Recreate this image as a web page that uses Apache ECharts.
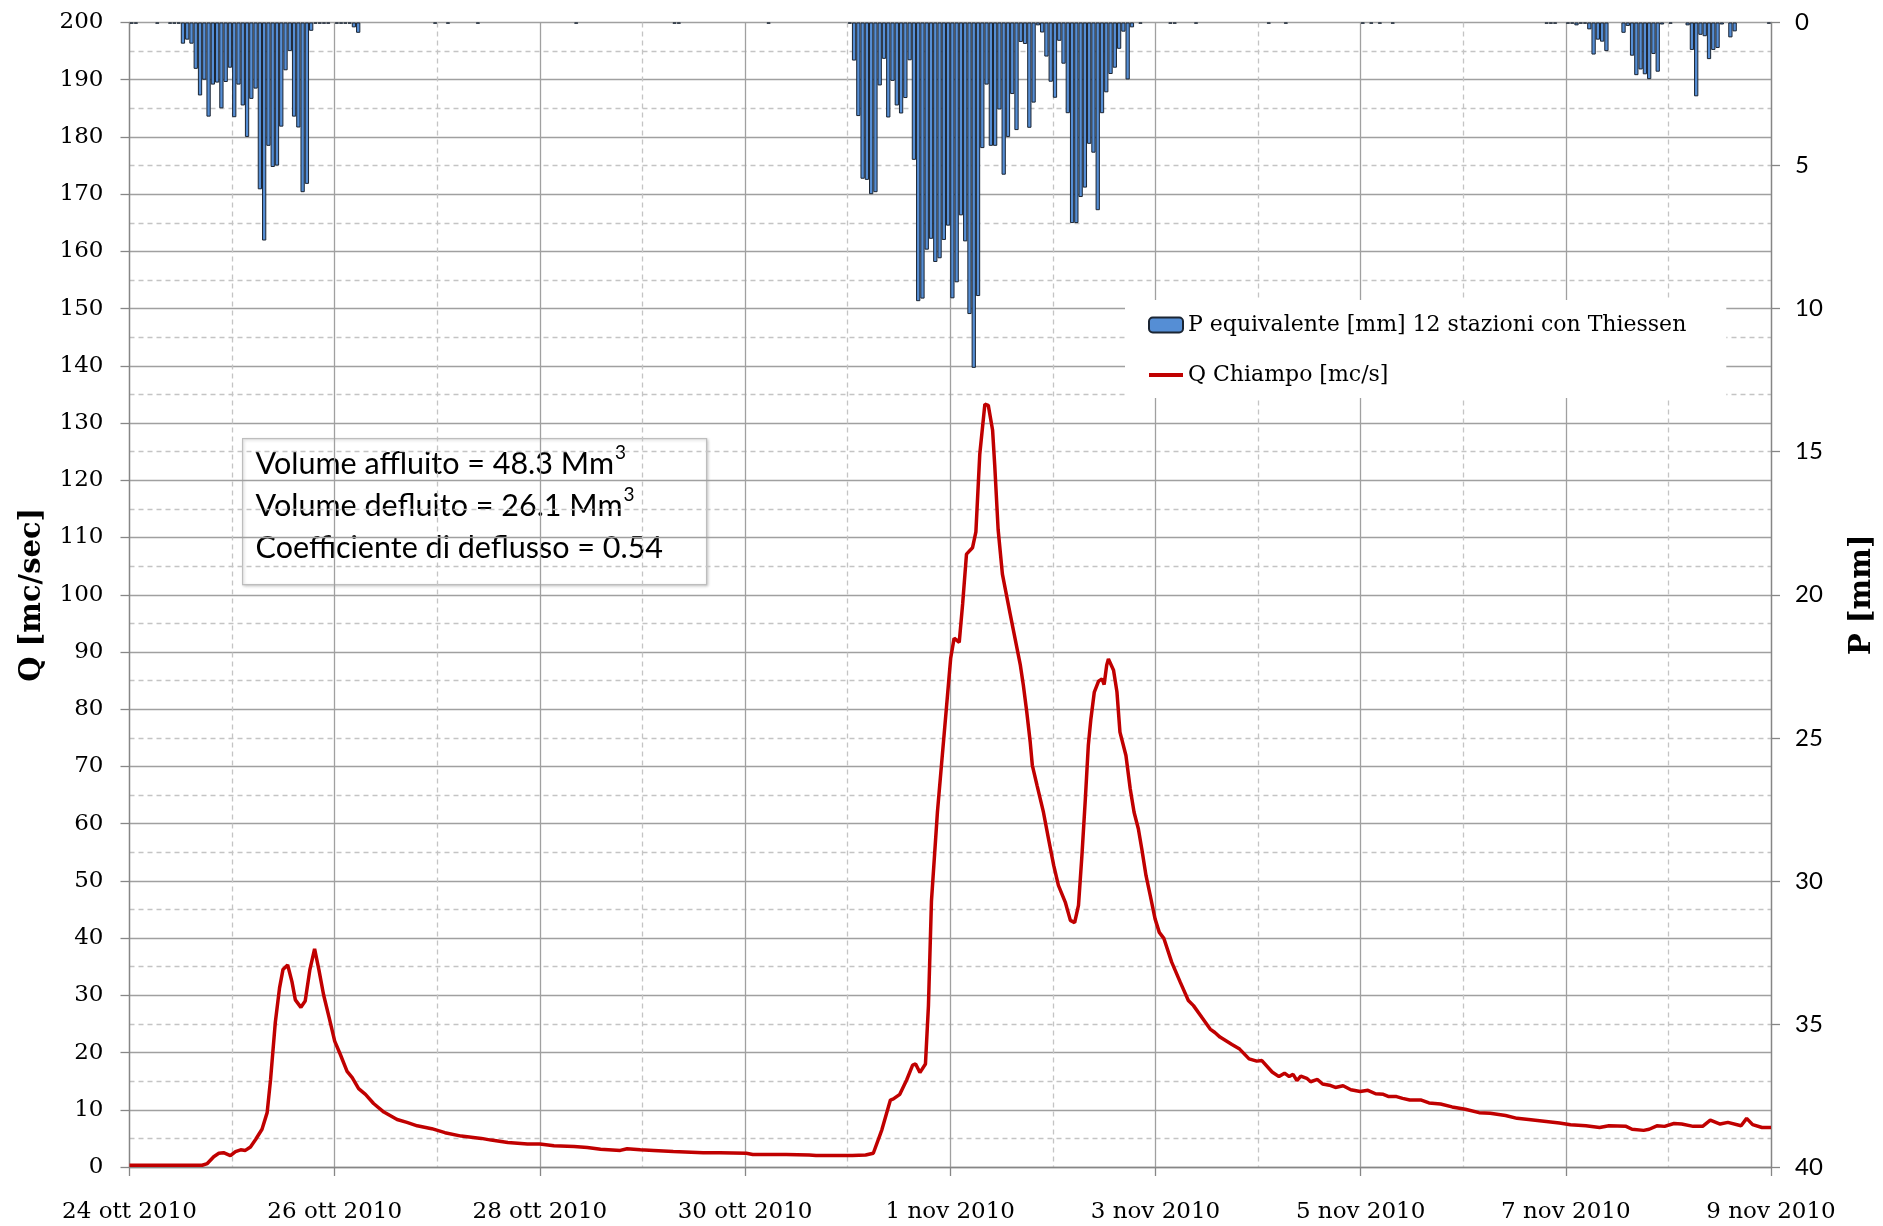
<!DOCTYPE html>
<html>
<head>
<meta charset="utf-8">
<script src="https://cdn.jsdelivr.net/npm/echarts@6/dist/echarts.min.js"></script>
<style>
html,body{margin:0;padding:0;background:#ffffff;}
#chart{width:1883px;height:1226px;}
</style>
</head>
<body>
<div id="chart"></div>
<script>
// ---------------- DATA ----------------
const xTickLabels = ['24 ott 2010','26 ott 2010','28 ott 2010','30 ott 2010','1 nov 2010','3 nov 2010','5 nov 2010','7 nov 2010','9 nov 2010'];
const totalHours = 384;

// Hourly precipitation (mm), given as runs: start hour + consecutive hourly values
const pEvent1Start = 12;
const pEvent1 = [0.74,0.6,0.74,1.62,2.55,2.0,3.29,2.17,2.1,3.0,2.08,1.58,3.31,2.17,2.9,4.0,2.67,2.31,5.83,7.62,4.31,5.05,5.0,3.64,1.67,1.0,3.29,3.67,5.93,5.64,0.29];
const pEvent1bStart = 52;
const pEvent1b = [0.17,0.36];
const pEvent2Start = 168;
const pEvent2 = [0.04,1.33,3.27,5.46,5.5,6.0,5.93,2.2,1.27,3.32,2.04,2.9,3.18,2.64,1.32,4.8,9.74,9.65,7.94,7.56,8.37,8.24,7.6,7.1,9.64,9.08,6.74,7.65,10.19,12.07,9.56,4.39,2.17,4.31,4.31,3.04,5.32,4.0,2.5,3.76,0.68,0.75,3.68,2.8,0.1,0.35,1.19,2.07,2.63,0.64,1.44,3.17,7.01,7.01,6.1,5.77,4.24,4.55,6.56,3.17,2.44,1.8,1.58,0.92,0.32,1.99,0.17];
const pEvent3aStart = 338;
const pEvent3a = [0.1,0.04,0.04,0.24,1.12,0.6,0.67,1.0];
const pEvent3bStart = 349;
const pEvent3b = [0.36,0.12,1.16,1.84,1.64,1.81,1.98,1.1,1.72,0.07];
const pEvent3cStart = 364;
const pEvent3c = [0.1,0.96,2.58,0.43,0.48,1.28,0.96,0.89,0.07,0,0.52,0.31];
// hours with only a trace of rain
const pTraceHours = [0,1,6,9,10,11,43,44,45,46,48,49,50,51,71,74,81,104,127,128,149,236,243,244,249,266,270,288,290,292,295,331,332,333,336,337,360,383];
const pTraceValue = 0.04;

// Discharge Q (m3/s): hour from 24 ott 2010 00:00 and value
const qHours = [0,10,17,18.2,19.7,20.9,22,23.6,24.8,26,27.1,28.3,29.5,31,32.2,33,34.1,35.1,35.9,37,38,38.8,40.1,41.1,42.2,43.3,44.3,45.4,46.8,48,49.3,50.9,52.1,53.6,55.2,57.1,59.5,62.6,64.9,67.3,70.7,73.8,77.6,82.3,84.6,88.5,93.1,96,99.3,104,107.1,110.2,114.8,116.4,119.5,122.6,127.2,134.2,138.1,144.3,145.8,153.6,159,160.6,169.1,172.2,
  174,176,178,178.7,180.2,181.8,183.2,183.9,184.9,186.2,186.9,187.6,189,190,191.1,192.1,192.9,194.1,194.9,195.8,197.2,198,198.9,200.1,200.9,201.9,202.4,203.2,204.2,206,
  208.4,209.1,209.9,210.7,211.2,212.3,213.8,215.0,216.2,217.3,218.9,220.1,221.1,222.0,222.8,223.6,224.3,224.9,225.7,226.7,227.5,228.0,228.6,229.0,230.2,231.0,231.7,233.1,234.1,235.0,236.0,236.8,237.8,238.8,239.9,240.9,242.0,243.8,245.8,247.7,248.9,250.8,252.8,253.9,255.1,
  257.9,259.7,261.9,263.7,264.9,267.3,268.9,270.2,271.3,272.2,273.1,274.0,275.4,276.3,277.9,279.1,280.7,282.1,283.9,285.7,287.9,289.7,291.5,293.3,294.6,296.4,297.8,299.5,302.2,304,306.7,309.4,312.5,315.7,318.3,321.9,324.6,327.3,330.9,334.5,337.1,340.7,343.9,346.1,350.1,351.5,354.2,355.5,357.3,359.1,361.3,363.1,365.8,368,369.8,372.1,373.9,377,378.3,379.7,381.9,384];
const qValues = [0.3,0.3,0.3,0.6,1.8,2.4,2.5,2.0,2.7,3.0,2.9,3.5,4.8,6.6,9.5,15.3,25.2,31.3,34.5,35.3,32.4,29.2,27.9,29.0,34.5,38.1,34.5,30.1,25.8,22.0,19.7,16.7,15.6,13.7,12.7,11.1,9.6,8.3,7.8,7.2,6.7,6.0,5.4,5.0,4.7,4.3,4.0,4.0,3.7,3.6,3.4,3.1,2.9,3.2,3.0,2.9,2.7,2.5,2.5,2.4,2.2,2.2,2.1,2.0,2.0,2.1,
  2.4,6.5,11.7,11.9,12.7,15.2,17.8,18.0,16.5,18.0,28.2,46.4,62.0,70.7,80.2,88.9,92.4,91.7,98.4,107.1,108.2,111.0,124.5,133.3,133.1,128.8,122.7,111.4,103.6,96.7,
  87.7,84.2,79.5,74.3,70.2,66.7,62.0,57.3,52.7,49.2,46.3,43.1,42.7,45.7,54.4,64.3,73.7,78.3,83.0,84.9,85.3,84.3,87.7,88.8,86.8,83.0,76.0,71.9,66.1,62.0,59.1,55.6,50.9,47.4,43.4,41.0,39.9,35.8,32.3,29.1,28.2,26.2,24.1,23.5,22.7,
  21.4,20.6,18.9,18.5,18.6,16.6,15.8,16.4,15.8,16.2,15.1,15.9,15.5,14.9,15.3,14.5,14.3,13.9,14.2,13.5,13.2,13.4,12.8,12.7,12.3,12.3,12.0,11.7,11.7,11.2,11.0,10.5,10.1,9.5,9.4,9.0,8.5,8.3,8.0,7.7,7.4,7.2,6.9,7.2,7.1,6.6,6.4,6.6,7.2,7.1,7.6,7.5,7.1,7.1,8.2,7.5,7.8,7.2,8.5,7.4,6.9,6.9];

const boxLines = ['Volume affluito = 48.3 Mm{sup|3}','Volume defluito = 26.1 Mm{sup|3}','Coefficiente di deflusso = 0.54'];
const nameP = 'P equivalente [mm] 12 stazioni con Thiessen';
const nameQ = 'Q Chiampo [mc/s]';

// ---------------- BUILD ----------------
const pMap = {};
pTraceHours.forEach(h => { pMap[h] = pTraceValue; });
[[pEvent1Start,pEvent1],[pEvent1bStart,pEvent1b],[pEvent2Start,pEvent2],[pEvent3aStart,pEvent3a],[pEvent3bStart,pEvent3b],[pEvent3cStart,pEvent3c]]
  .forEach(([s,arr]) => arr.forEach((v,i) => { pMap[s+i] = v; }));
const pData = [];
for (let h = 0; h < totalHours; h++) {
  if (pMap[h] !== undefined && pMap[h] > 0) pData.push([h + 0.5, pMap[h]]);
}
const qData = qHours.map((h,i) => [h, qValues[i]]);

const serif = 'DejaVu Serif';
const sans = 'Lato';
const axisGray = '#868686';
const gridSolid = '#a0a0a0';
const gridDash = '#c4c4c4';

const chart = echarts.init(document.getElementById('chart'), null, {renderer:'canvas'});
chart.setOption({
  backgroundColor: '#ffffff',
  animation: false,
  grid: {left: 129.5, right: 112, top: 22.5, bottom: 59, containLabel: false, outerBoundsMode: 'none'},
  legend: {
    orient: 'vertical', left: 1125, top: 300,
    backgroundColor: '#ffffff',
    padding: [12, 40, 10, 23],
    itemWidth: 34, itemHeight: 15, itemGap: 24,
    textStyle: {fontFamily: serif, fontSize: 22, color: '#000', lineHeight: 26},
    data: [
      {name: nameP},
      {name: nameQ, icon: 'path://M0,0L34,0L34,4L0,4Z'}
    ]
  },
  xAxis: {
    type: 'value', min: 0, max: totalHours, interval: 48,
    axisLine: {show: true, onZero: false, lineStyle: {color: axisGray, width: 1.3}},
    axisTick: {show: true, length: 9, lineStyle: {color: axisGray, width: 1.3}},
    minorTick: {show: false, splitNumber: 2},
    axisLabel: {
      margin: 34, fontFamily: serif, fontSize: 23, color: '#000',
      formatter: v => xTickLabels[Math.round(v / 48)] || ''
    },
    splitLine: {show: true, lineStyle: {color: gridSolid, width: 1.3}},
    minorSplitLine: {show: true, lineStyle: {color: gridDash, width: 1.3, type: [5, 4]}}
  },
  yAxis: [
    {
      type: 'value', min: 0, max: 200, interval: 10, position: 'left',
      name: 'Q [mc/sec]', nameLocation: 'middle', nameGap: 83, nameRotate: 90,
      nameTextStyle: {fontFamily: serif, fontWeight: 'bold', fontSize: 29, color: '#000'},
      axisLine: {show: true, lineStyle: {color: axisGray, width: 1.3}},
      axisTick: {show: true, length: 9, lineStyle: {color: axisGray, width: 1.3}},
      minorTick: {show: false, splitNumber: 2},
      axisLabel: {margin: 26, fontFamily: serif, fontSize: 23, color: '#000'},
      splitLine: {show: true, lineStyle: {color: gridSolid, width: 1.3}},
      minorSplitLine: {show: true, lineStyle: {color: gridDash, width: 1.3, type: [5, 4]}}
    },
    {
      type: 'value', min: 0, max: 40, interval: 5, position: 'right', inverse: true,
      name: 'P [mm]', nameLocation: 'middle', nameGap: 77, nameRotate: 90,
      nameTextStyle: {fontFamily: serif, fontWeight: 'bold', fontSize: 29, color: '#000'},
      axisLine: {show: true, lineStyle: {color: axisGray, width: 1.3}},
      axisTick: {show: true, length: 9, lineStyle: {color: axisGray, width: 1.3}},
      axisLabel: {margin: 24, fontFamily: sans, fontSize: 24, color: '#000'},
      splitLine: {show: false}
    }
  ],
  series: [
    {
      name: nameP, type: 'bar', yAxisIndex: 1, data: pData,
      barCategoryGap: '0%',
      itemStyle: {color: '#558ED5', borderColor: '#1b2533', borderWidth: 1},
      z: 3
    },
    {
      name: nameQ, type: 'line', yAxisIndex: 0, data: qData,
      symbol: 'none', smooth: false,
      lineStyle: {color: '#C00000', width: 3.5},
      itemStyle: {color: '#C00000'},
      z: 4
    }
  ],
  graphic: [
    {
      type: 'group', left: 242, top: 438, z: 100,
      children: [
        {type: 'rect', shape: {x: 0, y: 0, width: 464, height: 146},
         style: {fill: '#ffffff', stroke: '#bdbdbd', lineWidth: 1.2,
                 shadowBlur: 3, shadowColor: 'rgba(0,0,0,0.2)', shadowOffsetX: 1, shadowOffsetY: 1}},
        {type: 'text', x: 13, y: 5,
         style: {
           text: boxLines.join('\n'), fontFamily: sans, fontSize: 30.5, lineHeight: 42, fill: '#000',
           rich: {sup: {fontFamily: sans, fontSize: 19, verticalAlign: 'top', lineHeight: 42, padding: [0, 0, 14, 1]}}
         }}
      ]
    }
  ]
});
</script>
</body>
</html>
